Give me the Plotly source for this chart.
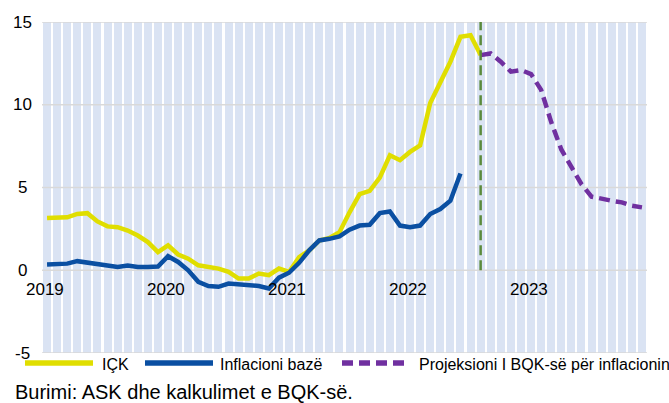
import plotly.graph_objects as go

# ---------------- data ----------------
years = [2019, 2020, 2021, 2022, 2023]
month_names = ["Jan", "Feb", "Mar", "Apr", "May", "Jun",
               "Jul", "Aug", "Sep", "Oct", "Nov", "Dec"]
months = [f"{m}-{y}" for y in years for m in month_names]

# IÇK (CPI inflation), Jan-2019 .. Aug-2022
ick = [3.15, 3.2, 3.2, 3.4, 3.45, 2.95, 2.65, 2.6, 2.4, 2.1, 1.7, 1.1,
       1.5, 0.95, 0.7, 0.3, 0.2, 0.1, -0.1, -0.5, -0.5, -0.2, -0.3, 0.1,
       -0.1, 0.8, 1.2, 1.8, 1.95, 2.3, 3.5, 4.6, 4.8, 5.6, 6.95, 6.65,
       7.15, 7.55, 10.1, 11.3, 12.6, 14.1, 14.2, 13.0]

# Inflacioni bazë (core inflation), Jan-2019 .. Jun-2022
core = [0.35, 0.4, 0.4, 0.55, 0.45, 0.35, 0.25, 0.2, 0.28, 0.2, 0.2, 0.22,
        0.85, 0.5, 0.0, -0.7, -0.95, -1.0, -0.8, -0.85, -0.9, -0.95, -1.1, -0.45,
        -0.15, 0.45, 1.2, 1.8, 1.9, 2.05, 2.45, 2.7, 2.75, 3.45, 3.55, 2.7,
        2.6, 2.7, 3.4, 3.7, 4.2, 5.85]

# Projeksioni I BQK-së (projection), Aug-2022 .. Dec-2023
proj_start_month = "Aug-2022"
proj = [13.0, 13.1, 12.6, 12.0, 12.1, 11.85, 10.9, 8.95, 7.3, 6.3, 5.2,
        4.45, 4.3, 4.2, 4.1, 3.9, 3.8]

y_ticks = [-5, 0, 5, 10, 15]
y_min, y_max = -5, 15

series_names = ["IÇK", "Inflacioni bazë", "Projeksioni I BQK-së për inflacionin"]
source_text = "Burimi: ASK dhe kalkulimet e BQK-së."

# ---------------- styling ----------------
C_ICK = "#e0de00"
C_CORE = "#0a4fa2"
C_PROJ = "#7030a0"
C_GREEN = "#5a8a3c"
C_BAND = "#dae3f3"
C_GRID = "#d9d9d9"
FONT = "Liberation Sans, Arial, sans-serif"

pos = list(range(len(months)))
p0 = months.index(proj_start_month)

fig = go.Figure()

# background monthly bands
fig.add_trace(go.Bar(x=pos, y=[y_max - y_min] * len(pos), base=y_min, width=0.8,
                     marker=dict(color=C_BAND, line=dict(width=0)),
                     hoverinfo="skip", showlegend=False))

# horizontal gridlines drawn above the bands
for v in y_ticks:
    fig.add_trace(go.Scatter(x=[-0.5, len(pos) - 0.5], y=[v, v], mode="lines",
                             line=dict(color=C_GRID, width=1.5),
                             hoverinfo="skip", showlegend=False))

fig.add_trace(go.Scatter(x=pos[:len(ick)], y=ick, mode="lines",
                         line=dict(color=C_ICK, width=4.5),
                         name=series_names[0], showlegend=False))
fig.add_trace(go.Scatter(x=pos[:len(core)], y=core, mode="lines",
                         line=dict(color=C_CORE, width=4.5),
                         name=series_names[1], showlegend=False))
fig.add_trace(go.Scatter(x=pos[p0:p0 + len(proj)], y=proj, mode="lines",
                         line=dict(color=C_PROJ, width=4.5, dash="11px,6px"),
                         name=series_names[2], showlegend=False))

# vertical dashed marker at start of projection
fig.add_trace(go.Scatter(x=[p0, p0], y=[0, 15.6], mode="lines",
                         line=dict(color=C_GREEN, width=2.5, dash="10px,5px"),
                         hoverinfo="skip", showlegend=False, cliponaxis=False))

annotations = []
# year labels on the zero line
for y in years:
    annotations.append(dict(x=months.index(f"Jan-{y}"), y=0, xref="x", yref="y",
                            text=str(y), showarrow=False, xanchor="center",
                            yanchor="middle", yshift=-19, xshift=-2,
                            font=dict(family=FONT, size=17, color="#000000")))
# y tick labels
W, H, L, B_ = 605, 331, 42, 353
def px(x): return (x - L) / W
def py(y): return (B_ - y) / H
for v in y_ticks:
    annotations.append(dict(x=px(22.5), y=v, xref="paper", yref="y", text=str(v),
                            showarrow=False, xanchor="center", yanchor="middle",
                            font=dict(family=FONT, size=17, color="#000000")))

# custom legend
shapes = []
legend_items = [(25, 93, 100, C_ICK, "solid", series_names[0]),
                (145, 213, 218, C_CORE, "solid", series_names[1]),
                (342, 410, 417, C_PROJ, "11px,6px", series_names[2])]
for x0, x1, xt, col, dash, name in legend_items:
    shapes.append(dict(type="line", xref="paper", yref="paper",
                       x0=px(x0), x1=px(x1), y0=py(363), y1=py(363),
                       line=dict(color=col, width=5.5, dash=dash)))
    annotations.append(dict(x=px(xt), y=py(364), xref="paper", yref="paper",
                            text=name, showarrow=False, xanchor="left",
                            yanchor="middle",
                            font=dict(family=FONT, size=16, color="#000000")))

annotations.append(dict(x=px(13), y=py(392), xref="paper", yref="paper",
                        text=source_text, showarrow=False, xanchor="left",
                        yanchor="middle",
                        font=dict(family=FONT, size=20, color="#000000")))

fig.update_layout(
    width=669, height=403,
    margin=dict(l=42, r=22, t=22, b=50),
    paper_bgcolor="white", plot_bgcolor="white",
    bargap=0, showlegend=False,
    xaxis=dict(range=[-0.5, len(pos) - 0.5], showgrid=False, zeroline=False,
               showticklabels=False, showline=False, fixedrange=True),
    yaxis=dict(range=[y_min, y_max], showgrid=False, zeroline=False,
               showticklabels=False, showline=False, fixedrange=True),
    annotations=annotations, shapes=shapes,
)

fig.write_html("out.html", config={"displayModeBar": False},
               post_script="document.body.style.margin='0px';")
